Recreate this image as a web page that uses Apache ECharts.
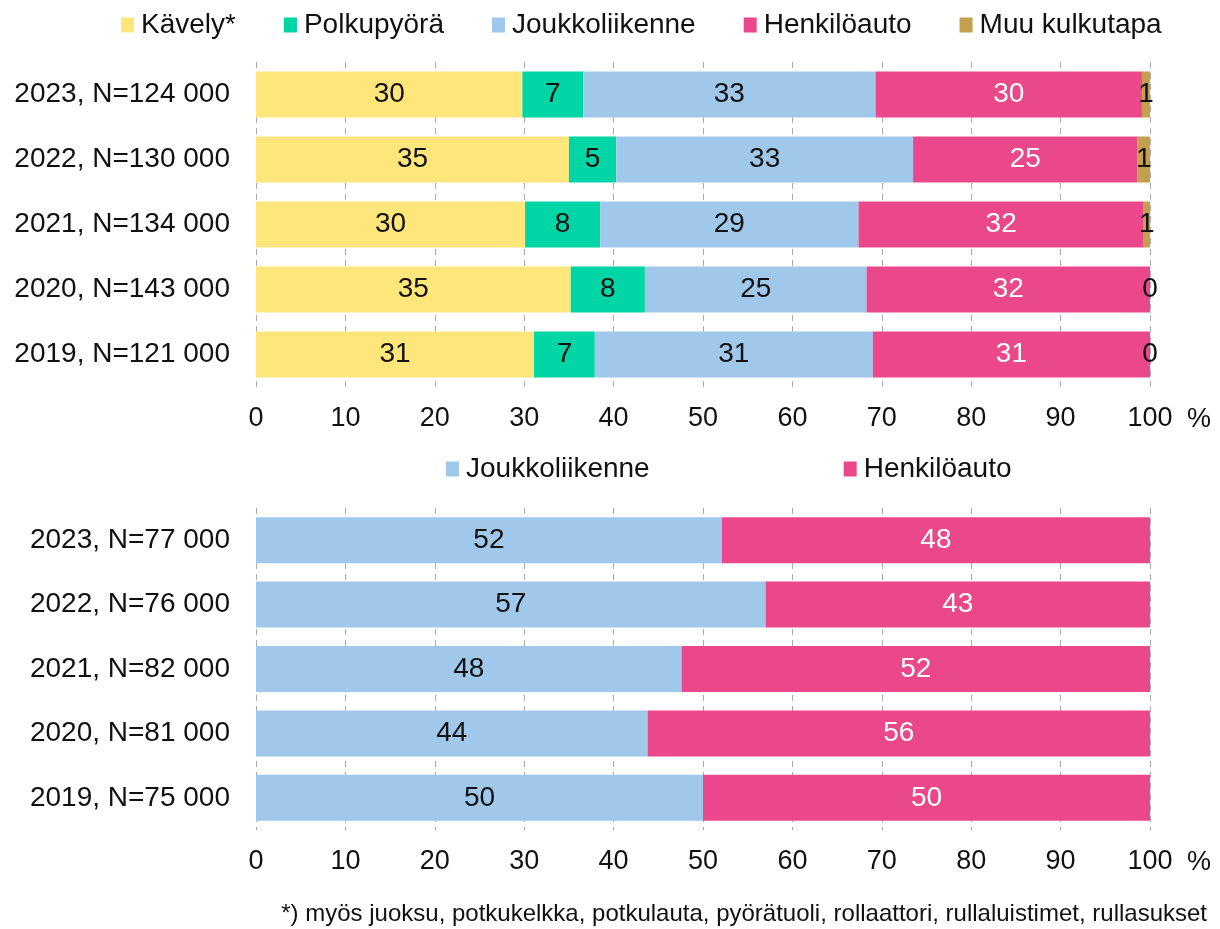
<!DOCTYPE html>
<html>
<head>
<meta charset="utf-8">
<script src="https://cdn.jsdelivr.net/npm/echarts@6/dist/echarts.min.js"></script>
<style>
  * { margin: 0; padding: 0; }
  html, body { width: 1220px; height: 929px; background: #fff; }
  #chart { width: 1220px; height: 929px; }
</style>
</head>
<body>
<div id="chart"></div>
<script>
// yläkaavio: kaikki kulkutavat
const yearsTop = ['2023, N=124 000', '2022, N=130 000', '2021, N=134 000', '2020, N=143 000', '2019, N=121 000']
const walk = [29.8, 35.0, 30.1, 35.2, 31.1]
const bike = [6.8, 5.3, 8.4, 8.3, 6.8]
const transit = [32.7, 33.2, 28.9, 24.8, 31.1]
const car = [29.8, 25.1, 31.9, 31.7, 31.0]
const other = [0.9, 1.4, 0.7, 0, 0]

// alakaavio: joukkoliikenne vs henkilöauto
const yearsBottom = ['2023, N=77 000', '2022, N=76 000', '2021, N=82 000', '2020, N=81 000', '2019, N=75 000']
const transit2 = [52.1, 57.0, 47.6, 43.8, 50.0]
const car2 = [47.9, 43.0, 52.4, 56.2, 50.0]

const ticks = [0, 10, 20, 30, 40, 50, 60, 70, 80, 90, 100]

const colors = {
  'Kävely*': '#FFE67A',
  'Polkupyörä': '#00D5A6',
  'Joukkoliikenne': '#9FC8EA',
  'Henkilöauto': '#EB478B',
  'Muu kulkutapa': '#C4A04E'
}

const font = 'Liberation Sans, Arial, sans-serif'
const fs = 27

const xAxisBase = (gridIndex) => ({
  type: 'value',
  gridIndex,
  min: ticks[0],
  max: ticks[ticks.length - 1],
  interval: 10,
  name: '%',
  nameLocation: 'end',
  nameGap: 37,
  nameTextStyle: { color: '#111', fontSize: fs, fontFamily: font, verticalAlign: 'top', lineHeight: 30, padding: [18, 0, 0, 0] },
  axisLine: { show: false },
  axisTick: { show: false },
  axisLabel: { color: '#111', fontSize: fs, fontFamily: font, margin: 18 },
  splitLine: { show: true, lineStyle: { color: '#aaa', type: [6, 5], width: 1 } }
})

const yAxisBase = (gridIndex, data) => ({
  type: 'category',
  gridIndex,
  data,
  inverse: true,
  axisLine: { show: false },
  axisTick: { show: false },
  axisLabel: { color: '#111', fontSize: 28, fontFamily: font, margin: 26 }
})

const mk = (name, data, idx, white) => ({
  name,
  type: 'bar',
  stack: 's' + idx,
  xAxisIndex: idx,
  yAxisIndex: idx,
  barWidth: 46,
  data,
  itemStyle: { color: colors[name] },
  label: {
    show: true,
    position: 'inside',
    color: white ? '#fff' : '#111',
    fontSize: 28,
    fontFamily: font,
    formatter: p => Math.round(p.value)
  }
})

const legendText = { color: '#111', fontSize: 28, fontFamily: font, padding: [0, 0, 0, 2] }

const chart = echarts.init(document.getElementById('chart'))
chart.setOption({
  animation: false,
  textStyle: { fontFamily: font },
  legend: [
    {
      data: ['Kävely*', 'Polkupyörä', 'Joukkoliikenne', 'Henkilöauto', 'Muu kulkutapa'],
      top: 6,
      left: 116,
      itemWidth: 13,
      itemHeight: 15,
      itemGap: 48,
      icon: 'rect',
      textStyle: legendText
    },
    {
      data: ['Joukkoliikenne', 'Henkilöauto'],
      top: 450,
      left: 441,
      itemWidth: 13,
      itemHeight: 15,
      itemGap: 194,
      icon: 'rect',
      textStyle: legendText
    }
  ],
  title: {
    text: '*) myös juoksu, potkukelkka, potkulauta, pyörätuoli, rollaattori, rullaluistimet, rullasukset',
    right: 8,
    bottom: -2,
    textStyle: { color: '#111', fontSize: 24, fontWeight: 'normal', fontFamily: font }
  },
  grid: [
    { left: 256, right: 70, top: 62, height: 325 },
    { left: 256, right: 70, top: 508, height: 322 }
  ],
  xAxis: [xAxisBase(0), xAxisBase(1)],
  yAxis: [yAxisBase(0, yearsTop), yAxisBase(1, yearsBottom)],
  series: [
    mk('Kävely*', walk, 0),
    mk('Polkupyörä', bike, 0),
    mk('Joukkoliikenne', transit, 0),
    mk('Henkilöauto', car, 0, true),
    mk('Muu kulkutapa', other, 0),
    mk('Joukkoliikenne', transit2, 1),
    mk('Henkilöauto', car2, 1, true)
  ]
})
</script>
</body>
</html>
